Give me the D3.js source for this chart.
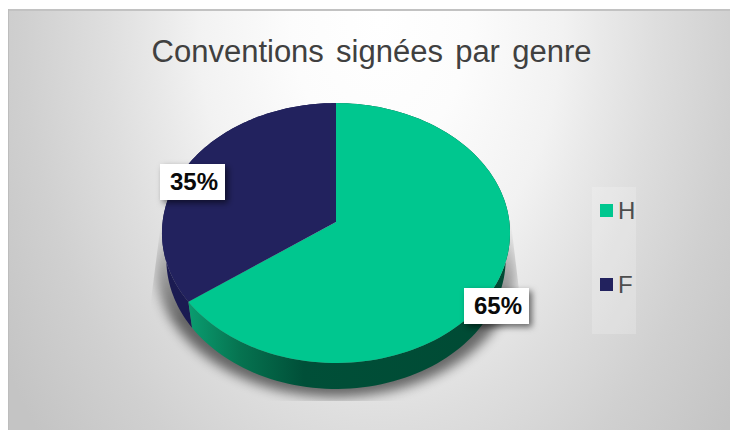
<!DOCTYPE html>
<html><head><meta charset="utf-8">
<script src="https://cdn.jsdelivr.net/npm/d3@7/dist/d3.min.js"></script>
<style>html,body{margin:0;padding:0;background:#fff;overflow:hidden}svg{display:block}text{font-family:"Liberation Sans",Arial,sans-serif}</style>
</head><body><svg id="c" width="730" height="430"></svg>
<script>
const titleText = "Conventions signées par genre";
const categories = ["H", "F"];
const values = [65, 35];
const labels = ["65%", "35%"];
const colors = ["#00C78F", "#22225E"];

const svg = d3.select("#c");
const defs = svg.append("defs");

const bg = defs.append("radialGradient").attr("id","bg").attr("gradientUnits","userSpaceOnUse")
  .attr("cx",0).attr("cy",0).attr("r",1)
  .attr("gradientTransform","translate(380,20) scale(444,648)");
[[0,"#ffffff"],[0.2,"#fcfcfc"],[0.41,"#f2f2f2"],[0.5,"#e9e9e9"],[0.62,"#dedede"],[0.8,"#d0d0d0"],[1,"#c4c4c4"]].forEach(s=>bg.append("stop").attr("offset",s[0]).attr("stop-color",s[1]));

const wallH = defs.append("linearGradient").attr("id","wallH").attr("gradientUnits","userSpaceOnUse").attr("x1",188).attr("x2",510).attr("y1",0).attr("y2",0);
[[0,"#0A9D70"],[0.16,"#067350"],[0.36,"#004F38"],[1,"#004A34"]].forEach(s=>wallH.append("stop").attr("offset",s[0]).attr("stop-color",s[1]));

defs.append("filter").attr("id","blur").attr("x","-20%").attr("y","-20%").attr("width","140%").attr("height","140%")
  .append("feGaussianBlur").attr("stdDeviation",6);
const ds = defs.append("filter").attr("id","lab").attr("x","-30%").attr("y","-30%").attr("width","170%").attr("height","170%");
ds.append("feDropShadow").attr("dx",3).attr("dy",3).attr("stdDeviation",3).attr("flood-color","#000").attr("flood-opacity",.55);

const fade = defs.append("linearGradient").attr("id","fade").attr("gradientUnits","userSpaceOnUse").attr("x1",0).attr("x2",0).attr("y1",215).attr("y2",320);
[[0,"#000"],[1,"#fff"]].forEach(s=>fade.append("stop").attr("offset",s[0]).attr("stop-color",s[1]));
defs.append("mask").attr("id","shMask").attr("maskUnits","userSpaceOnUse").attr("x",140).attr("y",210).attr("width",400).attr("height",200)
  .append("path").attr("d","M162,215L510,215L519,290L519,401L152,401L151,300Z").attr("fill","url(#fade)");

// background panel
svg.append("rect").attr("x",8).attr("y",9).attr("width",722).attr("height",421).attr("fill","url(#bg)");
svg.append("rect").attr("x",8).attr("y",9).attr("width",722).attr("height",2).attr("fill","#c2c2c2");
svg.append("rect").attr("x",8).attr("y",9).attr("width",1).attr("height",421).attr("fill","#bdbdbd");

// title
svg.append("text").attr("x",371.5).attr("y",61.5).attr("text-anchor","middle")
  .attr("font-size",31).attr("word-spacing",3.6).attr("fill","#404040").text(titleText);

// perspective projection of the unit disc
const cx=336, cy=222, B=173.4, A=129, k=0.0846, depth=26, shrink=0.975;
const proj=(a,z)=>{const u=Math.sin(a),v=-Math.cos(a),d=1-k*v;
  const s=z?shrink:1; return [cx+s*B*u/d, cy+A*v/d+(z?depth:0)];};
const sampled=(a0,a1)=>d3.range(0,121).map(i=>a0+(a1-a0)*i/120);
const line=d3.line();

const arcs=d3.pie().sort(null)(values);

// shadow
svg.append("g").attr("mask","url(#shMask)").append("path")
  .attr("d",line(sampled(0,2*Math.PI).map(a=>{const p=proj(a,1);return [cx+(p[0]-cx)*1.06,p[1]+8];}))+"Z")
  .attr("fill","#000").attr("opacity",.55).attr("filter","url(#blur)");

// side walls
[1,0].forEach(i=>{const d=arcs[i];const as=sampled(d.startAngle,d.endAngle);
  svg.append("path").attr("d",line(as.map(a=>proj(a,0)).concat(as.slice().reverse().map(a=>proj(a,1))))+"Z")
    .attr("fill",i===0?"url(#wallH)":"#1B1B52");});

// top faces
arcs.forEach((d,i)=>{svg.append("path")
  .attr("d",line([[cx,cy]].concat(sampled(d.startAngle,d.endAngle).map(a=>proj(a,0))))+"Z")
  .attr("fill",colors[i]);});

// data labels
const labelPos=[[464,288],[160,164]];
labels.forEach((t,i)=>{const [x,y]=labelPos[i];
  svg.append("rect").attr("x",x).attr("y",y).attr("width",65).attr("height",36).attr("fill","#fff").attr("filter","url(#lab)");
  svg.append("text").attr("x",x+34).attr("y",y+26).attr("text-anchor","middle").attr("font-size",24).attr("font-weight","bold").attr("fill","#0a0a0a").text(t);});

// legend
svg.append("rect").attr("x",592).attr("y",187).attr("width",44).attr("height",147).attr("fill","#fff").attr("opacity",.2);
const ly=d3.scalePoint().domain(categories).range([210.5,284.5]);
categories.forEach((c,i)=>{
  svg.append("rect").attr("x",600).attr("y",ly(c)-6.5).attr("width",13).attr("height",13).attr("fill",colors[i]);
  svg.append("text").attr("x",618).attr("y",ly(c)+8.5).attr("font-size",24).attr("fill","#4d4d4d").text(c);});
</script></body></html>
